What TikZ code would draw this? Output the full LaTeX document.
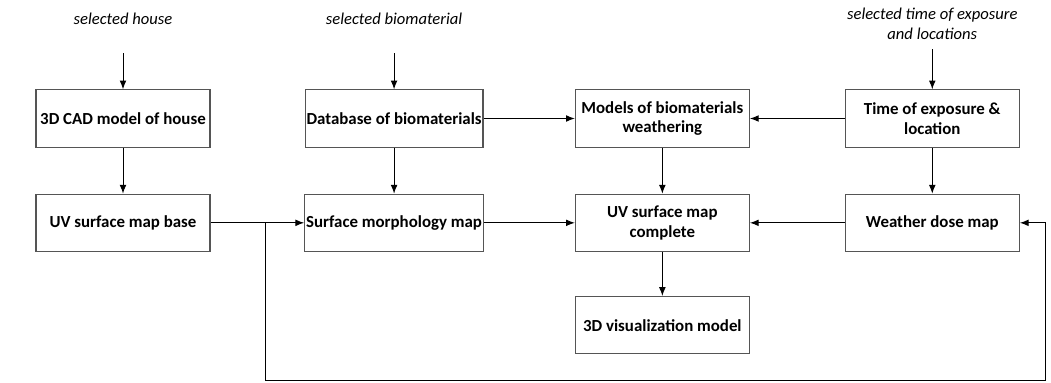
\documentclass[tikz,border=0pt]{standalone}
\usepackage{fontspec}
\setmainfont{Carlito}
\usepackage{tikz}
\usetikzlibrary{arrows.meta, positioning, calc}
\definecolor{boxgray}{RGB}{85,85,85}
\tikzset{
  stagebox/.style={draw=boxgray, line width=0.8pt, minimum height=1.43cm, minimum width=4.35cm,
      align=center, inner sep=1pt, font=\fontsize{12}{14}\selectfont\bfseries},
  inputlbl/.style={font=\fontsize{11.8}{14.5}\selectfont\itshape, align=center},
  myarrow/.style={-{Latex[length=2.2mm, width=1.7mm]}, line width=0.7pt, black},
}
\begin{document}
\begin{tikzpicture}
      \useasboundingbox (0,0) rectangle (26.275,9.55);
      % top row
      \node[stagebox] (cad) at (3.075,6.5875) {3D CAD model of house};
      \node[stagebox, right=2.35cm of cad] (dbase) {Database of biomaterials};
      \node[stagebox, right=2.28cm of dbase] (models) {Models of biomaterials\\weathering};
      \node[stagebox, right=2.37cm of models] (expo) {Time of exposure \&\\location};
      % second row
      \node[stagebox, below=1.15cm of cad] (uvbase) {UV surface map base};
      \node[stagebox, below=1.15cm of dbase] (morph) {Surface morphology map};
      \node[stagebox, below=1.15cm of models] (uvfull) {UV surface map\\complete};
      \node[stagebox, below=1.15cm of expo] (dose) {Weather dose map};
      \node[stagebox, below=1.1cm of uvfull] (visual) {3D visualization model};
      % inputs
      \node[inputlbl, above=1.5cm of cad] (inhouse) {selected house};
      \node[inputlbl, above=1.5cm of dbase] (inbio) {selected biomaterial};
      \node[inputlbl, above=1.12cm of expo] (inexpo) {selected time of exposure\\and locations};
      \draw[myarrow, shorten <=0.6cm] (inhouse) -- (cad);
      \draw[myarrow, shorten <=0.6cm] (inbio) -- (dbase);
      \draw[myarrow, shorten <=0.12cm] (inexpo) -- (expo);
      \draw[myarrow] (cad) -- (uvbase);
      \draw[myarrow] (dbase) -- (morph);
      \draw[myarrow] (dbase) -- (models);
      \draw[myarrow] (expo) -- (models);
      \draw[myarrow] (models) -- (uvfull);
      \draw[myarrow] (expo) -- (dose);
      \draw[myarrow] (uvbase) -- (morph);
      \draw[myarrow] (morph) -- (uvfull);
      \draw[myarrow] (dose) -- (uvfull);
      \draw[myarrow] (uvfull) -- (visual);
      % loop back to the dose map
      \coordinate (split) at ([xshift=1.375cm]uvbase.east);
      \coordinate (loopend) at ([xshift=0.65cm, yshift=-3.95cm]dose.east);
      \draw[myarrow] (split) |- (loopend) |- (dose.east);
    \end{tikzpicture}
\end{document}
